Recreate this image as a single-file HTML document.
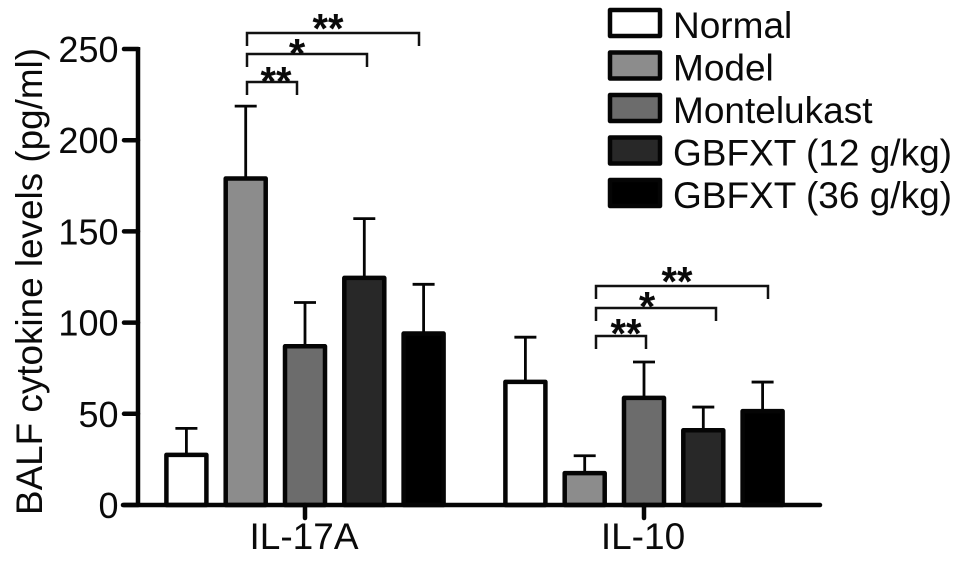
<!DOCTYPE html>
<html>
<head>
<meta charset="utf-8">
<title>BALF cytokine levels</title>
<style>
html,body{margin:0;padding:0;background:#fff;width:959px;height:562px;overflow:hidden}
svg{display:block}
text{font-family:"Liberation Sans",sans-serif;fill:#0a0a0a}
</style>
</head>
<body>
<svg id="chart" width="959" height="562" viewBox="0 0 959 562" xmlns="http://www.w3.org/2000/svg">
  <rect x="0" y="0" width="959" height="562" fill="#fff"/>
  <text transform="translate(42,515) rotate(-90)" font-size="37" textLength="467" lengthAdjust="spacingAndGlyphs">BALF cytokine levels (pg/ml)</text>
  <g id="marks"></g>
  <g id="axes"></g>
  <g id="legend"></g>

  <g fill="none" stroke="#111" stroke-width="2.5">
    <path d="M247 46V33H419V46"/>
    <path d="M247 67V54H367V67"/>
    <path d="M247 95V82H297V95"/>
  </g>
  <g fill="none" stroke="#111" stroke-width="2.5">
    <path d="M596 299V286H768V299"/>
    <path d="M596 321V308H716V321"/>
    <path d="M596 349V336H646V349"/>
  </g>
  <g font-size="42" font-weight="bold" text-anchor="middle">
    <text x="328" y="43" textLength="31" lengthAdjust="spacingAndGlyphs">**</text>
    <text x="297" y="68">*</text>
    <text x="276" y="96" textLength="31" lengthAdjust="spacingAndGlyphs">**</text>
    <text x="677" y="296" textLength="31" lengthAdjust="spacingAndGlyphs">**</text>
    <text x="647" y="321">*</text>
    <text x="626" y="348" textLength="31" lengthAdjust="spacingAndGlyphs">**</text>
  </g>
</svg>
<script>
const categories = ['IL-17A', 'IL-10'];
const seriesNames = ['Normal', 'Model', 'Montelukast', 'GBFXT (12 g/kg)', 'GBFXT (36 g/kg)'];
const normalValues = [27.5, 67.5];
const modelValues = [179, 17.5];
const montelukastValues = [87, 58.7];
const gbfxt12Values = [124.5, 41];
const gbfxt36Values = [94, 51.5];
const normalErrorTops = [42, 92];
const modelErrorTops = [218.7, 27];
const montelukastErrorTops = [111, 78.4];
const gbfxt12ErrorTops = [157, 53.7];
const gbfxt36ErrorTops = [121, 67.4];
const yTickLabels = [0, 50, 100, 150, 200, 250];

const seriesValues = [normalValues, modelValues, montelukastValues, gbfxt12Values, gbfxt36Values];
const seriesErrors = [normalErrorTops, modelErrorTops, montelukastErrorTops, gbfxt12ErrorTops, gbfxt36ErrorTops];
const seriesFills = ['#ffffff', '#8c8c8c', '#6c6c6c', '#282828', '#000000'];

const NS = 'http://www.w3.org/2000/svg';
const INK = '#050505';
const marks = document.getElementById('marks');
const axes = document.getElementById('axes');
const legend = document.getElementById('legend');

function yScale(v) { return 505 - v * (456 / 250); }
function groupCenter(c) { return 305 + c * 339; }
function barCenter(c, s) { return groupCenter(c) + (s - 2) * 59.3; }

function make(tag, parent, attrs) {
  const el = document.createElementNS(NS, tag);
  for (const k in attrs) el.setAttribute(k, attrs[k]);
  parent.appendChild(el);
  return el;
}

seriesValues.forEach(function (vals, s) {
  vals.forEach(function (v, c) {
    const cx = barCenter(c, s);
    const top = yScale(v);
    const errTop = yScale(seriesErrors[s][c]);

    const stem = make('line', marks, { x1: cx, x2: cx, y1: top, y2: errTop, stroke: INK, 'stroke-width': 2.8 });
    
    

    const cap = make('line', marks, { x1: cx - 11, x2: cx + 11, y1: errTop, y2: errTop, stroke: INK, 'stroke-width': 2.8 });
    
    

    const bar = make('rect', marks, { x: cx - 20, y: top, width: 40, height: 505 - top, fill: seriesFills[s], stroke: INK, 'stroke-width': 4.5, 'stroke-linejoin': 'round' });
    
    
  });
});

const yLine = make('line', axes, { x1: 138, x2: 138, y1: 47, y2: 507, stroke: INK, 'stroke-width': 4.5 });



const xLine = make('line', axes, { x1: 123, x2: 820, y1: 505, y2: 505, stroke: INK, 'stroke-width': 4.5, 'stroke-linecap': 'round' });



yTickLabels.forEach(function (t) {
  const y = yScale(t);

  const tick = make('line', axes, { x1: 124, x2: 138, y1: y, y2: y, stroke: INK, 'stroke-width': 4.5, 'stroke-linecap': 'round' });
  
  

  const label = make('text', axes, { x: 118.5, y: y + 13, 'font-size': 36, 'text-anchor': 'end' });
  label.textContent = t;
  
  
});

categories.forEach(function (name, c) {
  const x = groupCenter(c);

  const tick = make('line', axes, { x1: x, x2: x, y1: 505, y2: 518, stroke: INK, 'stroke-width': 4.5, 'stroke-linecap': 'round' });
  
  

  const label = make('text', axes, { x: x - 1, y: 549, 'font-size': 37, 'text-anchor': 'middle' });
  label.textContent = name;
  
  
});

seriesNames.forEach(function (name, s) {
  const y = 10 + s * 42.5;

  const swatch = make('rect', legend, { x: 610, y: y, width: 50, height: 26, fill: seriesFills[s], stroke: INK, 'stroke-width': 4.5, 'stroke-linejoin': 'round' });
  
  

  const label = make('text', legend, { x: 673, y: y + 28, 'font-size': 37 });
  label.textContent = name;
  
  
});
</script>
</body>
</html>
